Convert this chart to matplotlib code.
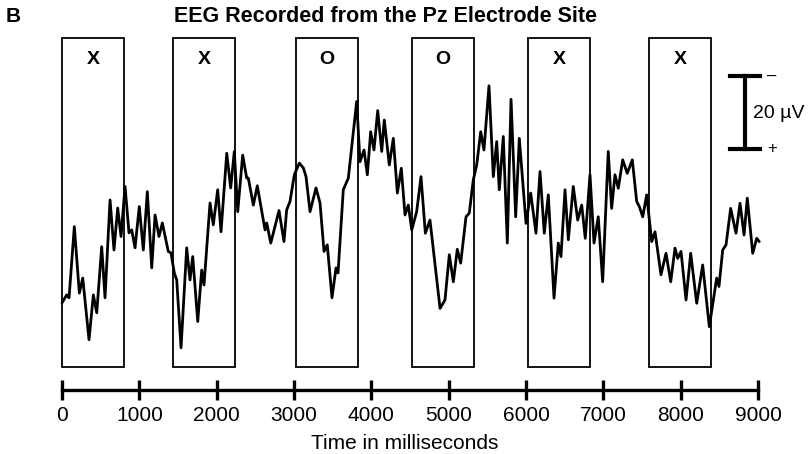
import matplotlib
matplotlib.use("Agg")
import matplotlib.pyplot as plt
from matplotlib.patches import Rectangle

# ── Data ──────────────────────────────────────────────────────────────────────

time_ms = [0, 61, 91, 159, 224, 268, 349, 405, 449, 513, 556, 621, 672, 720,
           763, 815, 866, 901, 944, 999, 1051, 1103, 1160, 1203, 1254, 1297,
           1374, 1409, 1452, 1483, 1539, 1612, 1655, 1690, 1755, 1806, 1836,
           1914, 1956, 2013, 2056, 2130, 2181, 2228, 2272, 2336, 2388, 2409,
           2474, 2525, 2625, 2647, 2699, 2806, 2870, 2905, 2948, 3004, 3068,
           3120, 3155, 3207, 3284, 3336, 3388, 3430, 3491, 3543, 3569, 3637,
           3702, 3810, 3853, 3905, 3948, 3991, 4034, 4082, 4134, 4167, 4232,
           4284, 4336, 4387, 4435, 4478, 4522, 4586, 4642, 4698, 4758, 4888,
           4952, 5008, 5060, 5111, 5155, 5224, 5266, 5318, 5362, 5414, 5456,
           5521, 5577, 5621, 5654, 5706, 5758, 5806, 5866, 5913, 6000, 6060,
           6129, 6181, 6236, 6288, 6362, 6417, 6452, 6504, 6547, 6611, 6668,
           6720, 6766, 6827, 6879, 6934, 6991, 7063, 7107, 7150, 7193, 7250,
           7309, 7374, 7431, 7465, 7509, 7560, 7625, 7668, 7745, 7810, 7871,
           7926, 7961, 8004, 8069, 8129, 8207, 8284, 8370, 8465, 8495, 8543,
           8586, 8646, 8715, 8767, 8819, 8861, 8931, 8983, 9016]

# microvolts, negative plotted upward (EEG convention)
eeg_uv = [20.0, 17.8, 18.6, -0.9, 17.3, 13.2, 30.1, 17.8, 22.7, 4.6, 18.6,
          -8.2, 5.5, -6.0, 1.8, -11.9, 0.8, 0.0, 4.9, -6.4, 5.5, -10.5, 10.4,
          -4.1, 1.8, -1.9, 5.9, 6.3, 11.8, 13.7, 32.3, 4.9, 13.7, 7.3, 25.1,
          11.0, 15.1, -7.4, -1.4, -11.0, 0.5, -21.0, -11.5, -21.5, -5.0, -20.5,
          -14.2, -14.2, -6.8, -12.1, 0.0, -1.9, 3.6, -5.3, 3.2, -5.5, -7.8,
          -15.1, -18.3, -17.0, -14.6, -5.0, -11.5, -7.4, 5.9, 4.1, 18.6, 10.4,
          11.8, -11.0, -14.2, -35.2, -18.7, -21.9, -15.1, -26.9, -21.9, -32.7,
          -21.5, -30.1, -17.8, -25.1, -10.1, -16.9, -4.1, -6.8, 0.0, -5.0,
          -14.6, 0.9, -2.7, 21.5, 19.2, 6.8, 14.2, 5.3, 9.1, -3.6, -4.6, -13.7,
          -17.8, -26.9, -21.9, -39.5, -14.6, -24.2, -11.0, -25.6, 3.6, -35.8,
          -3.6, -25.1, -1.8, -10.1, 0.9, -16.0, 0.9, -9.6, 18.7, 3.6, 7.3,
          -11.0, 2.7, -11.9, -2.7, -6.8, 2.3, -15.1, 3.6, -3.6, 14.2, -21.5,
          -5.9, -15.1, -11.4, -19.2, -15.5, -19.2, -7.8, -6.4, -3.6, -9.6, 3.2,
          0.5, 12.3, 6.4, 14.2, 5.0, 7.8, 5.9, 19.2, 6.4, 20.1, 9.6, 26.5, 13.2,
          15.5, 5.5, 4.1, -5.9, 0.9, -7.3, 1.4, -8.7, 6.4, 2.3, 3.2]

stim_onsets = [0, 1440, 3030, 4530, 6030, 7590]
stim_letters = ["X", "X", "O", "O", "X", "X"]
stim_dur = 800

x_ticks = [0, 1000, 2000, 3000, 4000, 5000, 6000, 7000, 8000, 9000]

plt.rcParams["font.family"] = ["Liberation Sans", "DejaVu Sans"]

fig = plt.figure(figsize=(8.09, 4.54), dpi=100)
ax = fig.add_axes([0, 0, 1, 1])
ax.set_xlim(-802, 9659)
ax.set_ylim(61.4, -63.0)   # inverted: negative up

# stimulus windows
for onset, letter in zip(stim_onsets, stim_letters):
    ax.add_patch(Rectangle((onset, -52.6), stim_dur, 90.1, fill=False,
                           edgecolor="black", linewidth=1.3))
    ax.text(onset + stim_dur / 2, -46.6, letter, ha="center", va="center",
            fontsize=14, fontweight="bold")

# EEG trace
ax.plot(time_ms, eeg_uv, color="black", linewidth=2.0,
        solid_joinstyle="round", solid_capstyle="round")

# calibration bar: 20 µV
bar_t = 8831
ax.plot([bar_t, bar_t], [-42.2, -22.2], color="black", linewidth=3)
for yv in (-42.2, -22.2):
    ax.plot([bar_t - 195, bar_t + 195], [yv, yv], color="black", linewidth=3)
ax.text(9120, -42.2, "–", ha="left", va="center", fontsize=12)
ax.text(9120, -22.2, "+", ha="left", va="center", fontsize=12)
ax.text(8935, -32.0, "20 µV", ha="left", va="center", fontsize=14)

# time axis
for side in ("top", "left", "right"):
    ax.spines[side].set_visible(False)
ax.spines["bottom"].set_position(("data", 43.8))
ax.spines["bottom"].set_bounds(0, 9000)
ax.spines["bottom"].set_linewidth(2.4)
ax.set_xticks(x_ticks)
ax.set_xticklabels([str(t) for t in x_ticks])
ax.tick_params(axis="x", direction="inout", length=15, width=2.4,
               labelsize=15, pad=4)
ax.set_yticks([])
ax.patch.set_alpha(0)

ax.text(4435, 58.6, "Time in milliseconds", ha="center", va="center",
        fontsize=15)
ax.text(4177, -58.4, "EEG Recorded from the Pz Electrode Site",
        ha="center", va="center", fontsize=15.5, fontweight="bold")
ax.text(-634, -58.4, "B", ha="center", va="center", fontsize=15,
        fontweight="bold")

fig.savefig("out.png", dpi=100)
plt.close(fig)
